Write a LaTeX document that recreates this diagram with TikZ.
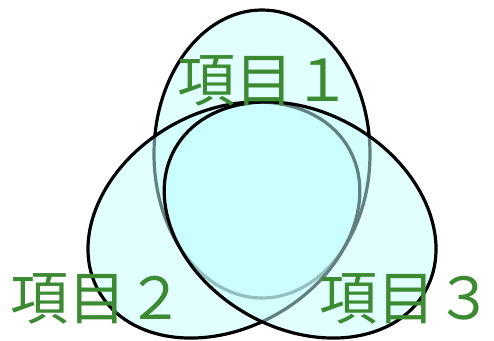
\documentclass[tikz,border=0pt]{standalone}
\usepackage{fontspec}
\newfontfamily\jpfont{Noto Sans CJK JP}
\definecolor{vnFill}{HTML}{C4FFFF}
\definecolor{vnGreen}{HTML}{3C8A32}
\tikzset{
  vn set/.style={draw=black, line width=3.2pt, fill=vnFill, fill opacity=0.5},
  vn label/.style={inner sep=0pt, anchor=west, text=vnGreen, font=\jpfont\fontsize{58}{58}\selectfont},
}

\begin{document}
\begin{tikzpicture}[x=1pt, y=-1pt]
  \useasboundingbox (0,0) rectangle (494,340);
  \coordinate (c1) at (262,154);
  \coordinate (c2) at (223.9,220);
  \coordinate (c3) at (300.1,220);

  % three overlapping sets, later ones over earlier ones
  \filldraw[vn set] (c1) ellipse [x radius=108pt, y radius=144pt];
  \filldraw[vn set, rotate around={30:(c2)}] (c2) ellipse [x radius=144pt, y radius=108pt];
  \filldraw[vn set, rotate around={-30:(c3)}] (c3) ellipse [x radius=144pt, y radius=108pt];

  % labels
  \node[vn label] (lab1) at (177,81) {項目１};
  \node[vn label] (lab2) at (10,299) {項目２};
  \node[vn label] (lab3) at (319,299) {項目３};
\end{tikzpicture}
\end{document}
